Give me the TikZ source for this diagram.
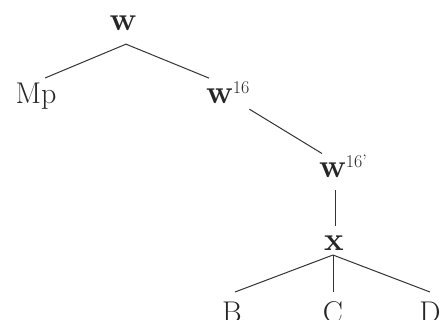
\documentclass[tikz,border=0pt]{standalone}
\begin{document}
\begin{tikzpicture}[x=1pt,y=-1pt,
  lab/.style={inner sep=0pt, outer sep=0pt, font=\fontsize{30}{32}\selectfont, text=black!85},
  edge/.style={draw=black!80, line width=1pt}]
\newcommand{\supnum}[1]{\raisebox{10pt}{\fontsize{18}{18}\selectfont #1}}
\newcommand{\bw}{{\fontsize{33}{34}\selectfont\textbf{w}}}
\useasboundingbox (0,0) rectangle (441,320);
\node[lab, anchor=base] (w) at (123,31) {\bw};
\node[lab, anchor=base] (mp) at (36,104) {Mp};
\node[lab, anchor=base west] (w16) at (206,104) {\bw\supnum{16}};
\node[lab, anchor=base west] (w16p) at (319,178) {\bw\supnum{16'}};
\node[lab, anchor=base] (x) at (334,250) {\fontsize{33}{34}\selectfont\textbf{x}};
\node[lab, anchor=base] (b) at (232,322) {B};
\node[lab, anchor=base] (c) at (333,322) {C};
\node[lab, anchor=base] (d) at (430,322) {D};
\draw[edge] ([shift={(3,13)}]w.south) -- ([shift={(9,-5.5)}]mp.north);
\draw[edge] ([shift={(3,13)}]w.south) -- ([shift={(3,-4)}]w16.north west);
\draw[edge] ([shift={(0,5)}]w16.south east) -- ([shift={(3,-2)}]w16p.north west);
\draw[edge] ([shift={(16,12)}]w16p.south west) -- ([shift={(1,-9)}]x.north);
\draw[edge] ([shift={(-1,5)}]x.south) -- ([shift={(3,-9.5)}]b.north);
\draw[edge] ([shift={(-1,5)}]x.south) -- ([shift={(0,-9.5)}]c.north);
\draw[edge] ([shift={(-1,5)}]x.south) -- ([shift={(0,-9.5)}]d.north);
\end{tikzpicture}
\end{document}
